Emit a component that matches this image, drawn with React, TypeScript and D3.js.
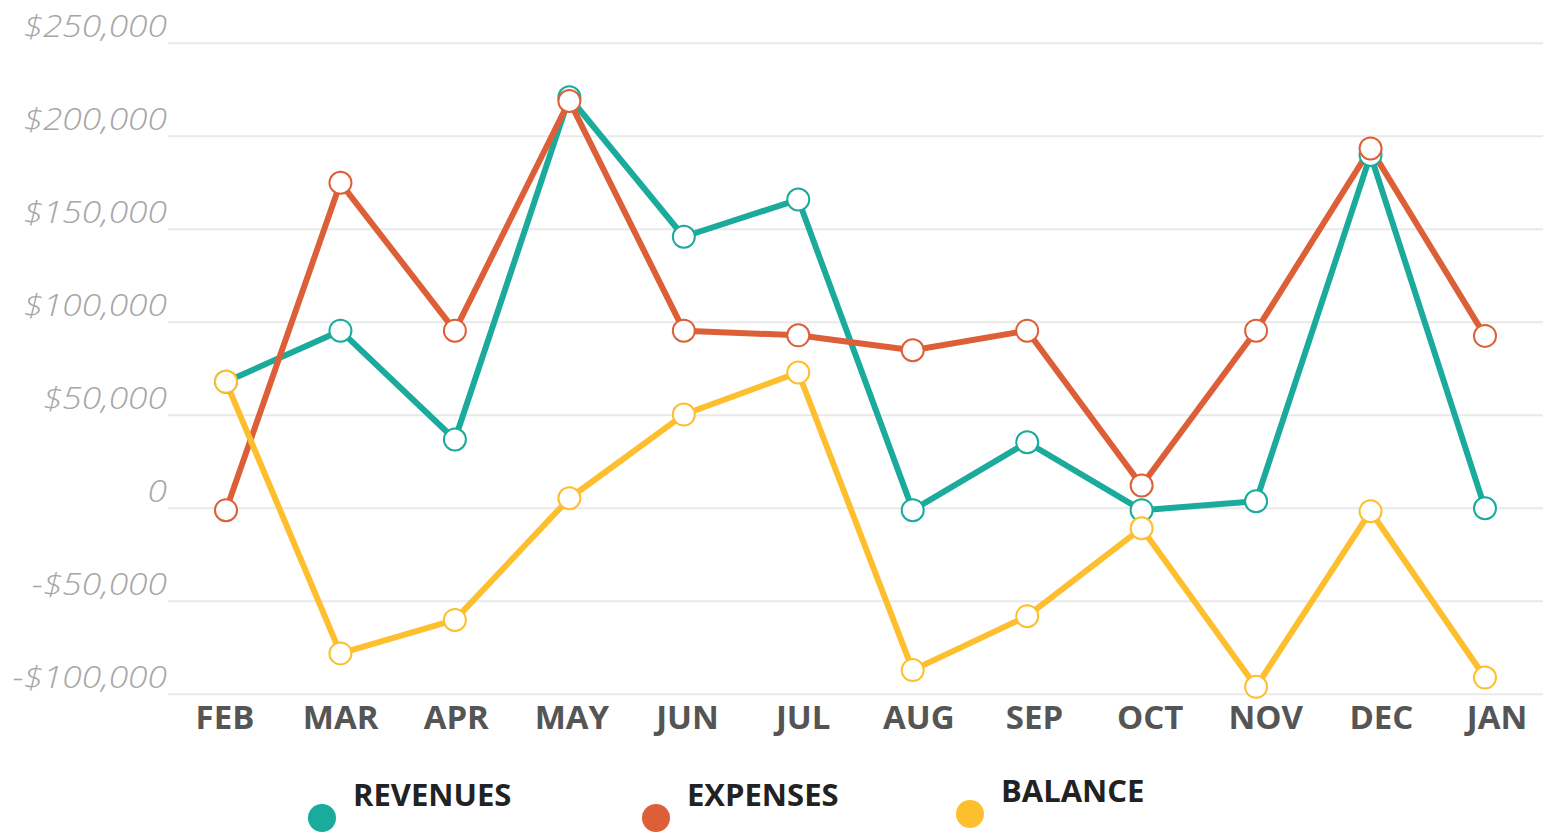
import React from "react";
import * as d3 from "d3";

const months = ["FEB", "MAR", "APR", "MAY", "JUN", "JUL", "AUG", "SEP", "OCT", "NOV", "DEC", "JAN"];
const revenues = [68000, 95500, 37000, 221000, 146000, 166000, -1000, 35500, -1000, 3800, 190000, 0];
const expenses = [-1000, 175000, 95500, 219000, 95500, 93000, 85000, 95500, 12300, 95500, 193500, 92700];
const balance = [68000, -78000, -60000, 5400, 50400, 73000, -87000, -58000, -10700, -96000, -1600, -91000];
const yTicks = [250000, 200000, 150000, 100000, 50000, 0, -50000, -100000];
const seriesNames = ["REVENUES", "EXPENSES", "BALANCE"];
const seriesColors = ["#1aab9c", "#dd5f38", "#fdbf2d"];

const W = 1548;
const H = 835;

function fmt(v: number): string {
  if (v === 0) return "0";
  const s = "$" + d3.format(",")(Math.abs(v));
  return v < 0 ? "-" + s : s;
}

export default function App() {
  const y = d3.scaleLinear().domain([-100000, 250000]).range([694.3, 43.3]);
  const x = d3.scalePoint<string>().domain(months).range([226, 1485]);
  const xl = d3.scalePoint<string>().domain(months).range([225, 1497]);
  const series = [revenues, expenses, balance];
  const line = d3
    .line<number>()
    .x((_, i) => x(months[i]) as number)
    .y((d) => y(d));
  const legendX = [322, 656, 970];
  const legendDy = [0, 0, -4];

  return (
    <svg
      width={W}
      height={H}
      style={{ position: "absolute", left: 0, top: 0, display: "block", background: "#fff" }}
    >
      <g>
        {yTicks.map((t) => (
          <g key={t}>
            <line x1={168} x2={1543} y1={y(t)} y2={y(t)} stroke="#e9e9e9" strokeWidth={2} />
            <text
              transform={`translate(167,${y(t) - 6.5}) scale(1.14,1)`}
              textAnchor="end"
              fontFamily="'Open Sans', sans-serif"
              fontStyle="italic"
              fontWeight={300}
              fontSize={31}
              fill="#a6a6a6"
            >
              {fmt(t)}
            </text>
          </g>
        ))}
      </g>
      <g>
        {months.map((m) => (
          <text
            key={m}
            x={xl(m) as number}
            y={729}
            textAnchor="middle"
            fontFamily="'Open Sans', sans-serif"
            fontWeight={700}
            fontSize={33}
            fill="#555555"
          >
            {m}
          </text>
        ))}
      </g>
      <g>
        {series.map((s, k) => (
          <path key={k} d={line(s) || ""} fill="none" stroke={seriesColors[k]} strokeWidth={6} strokeLinejoin="round" />
        ))}
      </g>
      <g>
        {series.map((s, k) => (
          <g key={k}>
            {s.map((v, i) => (
              <circle
                key={i}
                cx={x(months[i]) as number}
                cy={y(v)}
                r={11}
                fill="#fff"
                stroke={seriesColors[k]}
                strokeWidth={2}
              />
            ))}
          </g>
        ))}
      </g>
      <g>
        {seriesNames.map((n, k) => (
          <g key={n}>
            <circle cx={legendX[k]} cy={818 + legendDy[k]} r={14} fill={seriesColors[k]} />
            <text
              x={legendX[k] + 31}
              y={806 + legendDy[k]}
              fontFamily="'Open Sans', sans-serif"
              fontWeight={700}
              fontSize={31}
              fill="#222"
            >
              {n}
            </text>
          </g>
        ))}
      </g>
    </svg>
  );
}
